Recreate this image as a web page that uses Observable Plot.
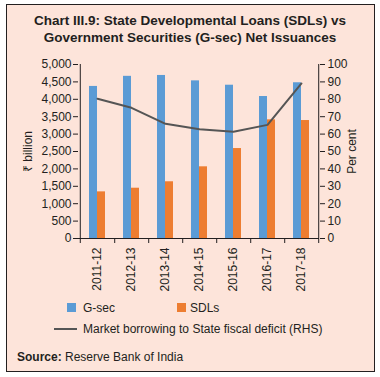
<!DOCTYPE html>
<html>
<head>
<meta charset="utf-8">
<script src="https://cdn.jsdelivr.net/npm/d3@7"></script>
<script src="https://cdn.jsdelivr.net/npm/@observablehq/plot@0.6"></script>
<style>
  body { margin: 0; background: #ffffff; font-family: "Liberation Sans", Arial, sans-serif; color: #231f20; }
  #card { position: absolute; left: 6px; top: 4px; width: 369px; height: 368px; border: 1px solid #231f20; background: #fde4da; box-sizing: border-box; }
  #title { position: absolute; left: 0; top: 12px; width: 380px; text-align: center; font: bold 13.5px/17px "Liberation Sans", Arial, sans-serif; }
  #chart { position: absolute; left: 0; top: 55px; }
  .abs { position: absolute; font-size: 12px; line-height: 14px; white-space: nowrap; }
  .sw { position: absolute; width: 9px; height: 9px; }
</style>
</head>
<body>
<div id="card"></div>
<div id="title">Chart III.9: State Developmental Loans (SDLs) vs<br>Government Securities (G-sec) Net Issuances</div>
<div id="chart"></div>
<div class="sw" style="left:67px;top:303px;background:#5b9bd5"></div>
<div class="abs" style="left:83px;top:301px">G-sec</div>
<div class="sw" style="left:177px;top:303px;background:#ed7d31"></div>
<div class="abs" style="left:190px;top:301px">SDLs</div>
<div style="position:absolute;left:54px;top:328px;width:23px;height:2px;background:#555555"></div>
<div class="abs" style="left:83px;top:322px">Market borrowing to State fiscal deficit (RHS)</div>
<div class="abs" style="left:17px;top:350px"><b>Source:</b> Reserve Bank of India</div>
<script>
const years = ["2011-12", "2012-13", "2013-14", "2014-15", "2015-16", "2016-17", "2017-18"];
const gsec = [4370, 4660, 4685, 4530, 4405, 4080, 4475];
const sdl = [1340, 1445, 1630, 2060, 2585, 3410, 3390];
const ratio = [80.3, 75.1, 65.9, 62.8, 61.3, 65.3, 89.1];
const leftTicks = [0, 500, 1000, 1500, 2000, 2500, 3000, 3500, 4000, 4500, 5000];

const data = years.map((year, i) => ({year, gsec: gsec[i], sdl: sdl[i], ratio: ratio[i]}));
const k = 5000 / 100; // right axis (per cent) mapped onto left axis
const step = (319 - 78) / years.length;
const half = step / 2;

const chart = Plot.plot({
  width: 380,
  height: 240,
  marginLeft: 78,
  marginRight: 61,
  marginTop: 9,
  marginBottom: 57,
  style: {background: "transparent", fontFamily: "'Liberation Sans', Arial, sans-serif", fontSize: "12px", color: "#231f20"},
  x: {domain: years, paddingInner: 0.767, paddingOuter: 0.3835, axis: null},
  y: {domain: [0, 5000], axis: null},
  marks: [
    Plot.barY(data, {x: "year", y: "gsec", fill: "#5b9bd5", dx: -4}),
    Plot.barY(data, {x: "year", y: "sdl", fill: "#ed7d31", dx: 4}),
    Plot.lineY(data, {x: "year", y: d => d.ratio * k, stroke: "#555555", strokeWidth: 2}),
    Plot.ruleY([0], {stroke: "#231f20"}),
    Plot.ruleX([years[0]], {dx: -half, y1: 0, y2: 5000, stroke: "#231f20"}),
    Plot.ruleX([years[years.length - 1]], {dx: half, y1: 0, y2: 5000, stroke: "#231f20"}),
    Plot.axisY({anchor: "left", ticks: leftTicks, tickFormat: d3.format(","), tickSize: 5, tickPadding: 2, label: null}),
    Plot.axisY({anchor: "right", ticks: leftTicks, tickFormat: d => String(d / k), tickSize: 5, tickPadding: 3, label: null}),
    Plot.axisX({ticks: years, tickFormat: () => "", tickSize: 5, dx: half, label: null}),
    Plot.axisX({ticks: [years[0]], tickFormat: () => "", tickSize: 5, dx: -half, label: null}),
    Plot.axisX({ticks: years, tickRotate: -90, tickSize: 0, tickPadding: 9, label: null}),
    Plot.text(["₹ billion"], {frameAnchor: "left", textAnchor: "middle", dx: -50, rotate: -90, fontSize: 12}),
    Plot.text(["Per cent"], {frameAnchor: "right", textAnchor: "middle", dx: 33, rotate: -90, fontSize: 12})
  ]
});
document.getElementById("chart").appendChild(chart);
</script>
</body>
</html>
